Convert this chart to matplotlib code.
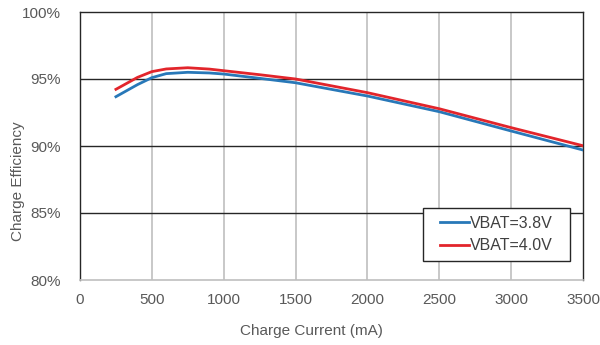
import numpy as np
import matplotlib
matplotlib.use("Agg")
import matplotlib.pyplot as plt
from matplotlib.patches import Rectangle

plt.rcParams['font.family'] = ['Liberation Sans', 'DejaVu Sans']

# charge current (mA) and efficiency (%) for the two battery voltages
current = [250, 400, 500, 600, 750, 900, 1000, 1250, 1500, 2000, 2500, 3000, 3500]
eff_38 = [93.68, 94.58, 95.10, 95.40, 95.50, 95.45, 95.37, 95.05, 94.72, 93.73, 92.56, 91.12, 89.70]
eff_40 = [94.23, 95.12, 95.55, 95.75, 95.84, 95.74, 95.62, 95.32, 95.00, 93.98, 92.78, 91.37, 90.02]
series_names = ["VBAT=3.8V", "VBAT=4.0V"]
xticks = [0, 500, 1000, 1500, 2000, 2500, 3000, 3500]
yticks = [80, 85, 90, 95, 100]

txt = "#595959"

fig = plt.figure(figsize=(6, 3.45), dpi=100)
ax = fig.add_axes([80/600, 1-280/345, 503/600, 268/345])

ax.set_xlim(0, 3500)
ax.set_ylim(80, 100)

# vertical grid grey, horizontal grid dark
for x in xticks[1:-1]:
    ax.axvline(x, color="#bfbfbf", lw=1.2, zorder=1)
for y in yticks[1:-1]:
    ax.axhline(y, color="#262626", lw=1.0, zorder=1)

ax.plot(current, eff_38, color="#2878b8", lw=2.0, label=series_names[0],
        zorder=3, solid_joinstyle="round")
ax.plot(current, eff_40, color="#e2252b", lw=2.0, label=series_names[1],
        zorder=3, solid_joinstyle="round")

for side in ["left", "top", "right"]:
    ax.spines[side].set_color("#262626")
    ax.spines[side].set_linewidth(1.0)
ax.spines["bottom"].set_color("#bfbfbf")
ax.spines["bottom"].set_linewidth(1.2)

ax.set_xticks(xticks)
ax.set_xticklabels([str(v) for v in xticks])
ax.set_yticks(yticks)
ax.set_yticklabels([f"{v}%" for v in yticks])
ax.tick_params(length=0, labelsize=11, colors=txt, pad=9)
ax.tick_params(axis="y", pad=14)

ax.set_xlabel("Charge Current (mA)", fontsize=11, color=txt)
ax.xaxis.set_label_coords(0.46, -0.165)
ax.set_ylabel("Charge Efficiency", fontsize=11, color=txt)
ax.yaxis.set_label_coords(-0.11, 0.37)

# legend without its own frame; a wider box is drawn round it afterwards
leg = ax.legend(loc="lower right", bbox_to_anchor=(0.95, 0.082), borderaxespad=0,
                fontsize=11.5, frameon=False, handlelength=1.8,
                handletextpad=0.1, borderpad=0.3, labelspacing=0.45)
for t in leg.get_texts():
    t.set_color("#404040")

fig.canvas.draw()
bb = leg.get_window_extent()
padx, pady = 12, 3
fw, fh = fig.bbox.width, fig.bbox.height
box = Rectangle(((bb.x0 - padx) / fw, (bb.y0 - pady) / fh),
                (bb.width + 2 * padx) / fw, (bb.height + 2 * pady) / fh,
                transform=fig.transFigure, facecolor="white",
                edgecolor="#262626", lw=1.0, zorder=4)
ax.add_artist(box)
leg.set_zorder(5)

fig.savefig("out.png", dpi=100)
